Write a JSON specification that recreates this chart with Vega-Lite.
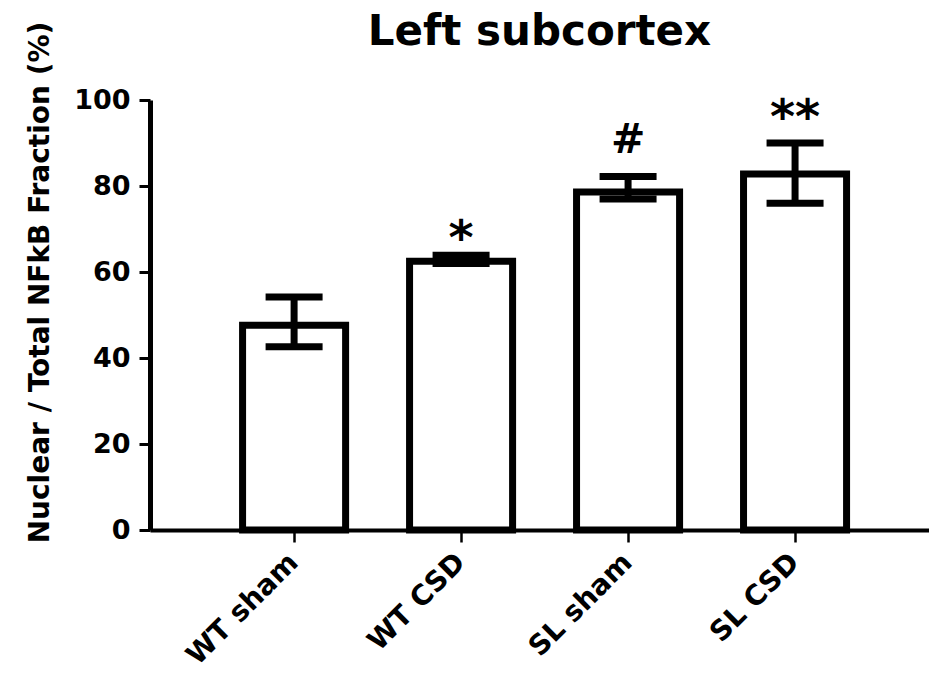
{
  "$schema": "https://vega.github.io/schema/vega-lite/v6.json",
  "width": 779,
  "height": 430,
  "autosize": {"type": "none"},
  "padding": {"left": 150, "top": 100, "right": 0, "bottom": 147},
  "background": "white",
  "title": {
    "text": "Left subcortex",
    "font": "DejaVu Sans",
    "fontSize": 42,
    "fontWeight": "bold",
    "color": "black",
    "anchor": "middle",
    "frame": "group",
    "baseline": "alphabetic",
    "offset": 0,
    "dy": 66
  },
  "config": {
    "view": {"stroke": null},
    "axis": {
      "labelFont": "DejaVu Sans",
      "titleFont": "DejaVu Sans",
      "labelColor": "black",
      "titleColor": "black",
      "domainColor": "black",
      "tickColor": "black",
      "grid": false,
      "labelFontWeight": "bold",
      "titleFontWeight": "bold"
    },
    "axisX": {
      "labelAngle": -45,
      "labelAlign": "right",
      "labelBaseline": "middle",
      "labelFontSize": 28,
      "labelPadding": 16,
      "tickSize": 12,
      "tickWidth": 2.5,
      "domainWidth": 4,
      "labelLimit": 0
    },
    "axisY": {
      "labelFontSize": 27,
      "labelPadding": 9,
      "tickSize": 11,
      "tickWidth": 3,
      "domainWidth": 5,
      "titleFontSize": 28,
      "titleX": -102,
      "titleY": 182,
      "titleBaseline": "alphabetic"
    }
  },
  "data": {
    "values": [
      {"group": "WT sham", "mean": 47.6, "lower": 42.6, "upper": 54.2, "sig": ""},
      {"group": "WT CSD", "mean": 62.5, "lower": 62.0, "upper": 63.9, "sig": "*"},
      {"group": "SL sham", "mean": 78.6, "lower": 77.0, "upper": 82.2, "sig": "#"},
      {"group": "SL CSD", "mean": 82.8, "lower": 76.0, "upper": 90.0, "sig": "**"}
    ]
  },
  "encoding": {
    "x": {
      "field": "group",
      "type": "nominal",
      "sort": null,
      "title": null,
      "scale": {"paddingInner": 0.383, "paddingOuter": 0.524, "align": 0.529}
    }
  },
  "layer": [
    {
      "mark": {"type": "bar", "fill": "white", "stroke": "black", "strokeWidth": 7, "strokeJoin": "miter"},
      "encoding": {
        "y": {
          "field": "mean",
          "type": "quantitative",
          "title": "Nuclear / Total NFkB Fraction (%)",
          "scale": {"domain": [0, 100], "nice": false},
          "axis": {"values": [0, 20, 40, 60, 80, 100]}
        }
      }
    },
    {
      "mark": {"type": "rule", "color": "black", "strokeWidth": 7},
      "encoding": {
        "y": {
          "field": "lower",
          "type": "quantitative",
          "title": "Nuclear / Total NFkB Fraction (%)",
          "scale": {"domain": [0, 100], "nice": false},
          "axis": {"values": [0, 20, 40, 60, 80, 100]}
        },
        "y2": {"field": "upper"}
      }
    },
    {
      "mark": {"type": "tick", "color": "black", "size": 57, "thickness": 7, "opacity": 1},
      "encoding": {
        "y": {
          "field": "lower",
          "type": "quantitative",
          "title": "Nuclear / Total NFkB Fraction (%)",
          "scale": {"domain": [0, 100], "nice": false},
          "axis": {"values": [0, 20, 40, 60, 80, 100]}
        }
      }
    },
    {
      "mark": {"type": "tick", "color": "black", "size": 57, "thickness": 7, "opacity": 1},
      "encoding": {
        "y": {
          "field": "upper",
          "type": "quantitative",
          "title": "Nuclear / Total NFkB Fraction (%)",
          "scale": {"domain": [0, 100], "nice": false},
          "axis": {"values": [0, 20, 40, 60, 80, 100]}
        }
      }
    },
    {
      "transform": [{"filter": "datum.sig === '*'"}],
      "mark": {"type": "text", "font": "DejaVu Sans", "fontWeight": "bold", "fontSize": 48, "color": "black", "baseline": "alphabetic", "dy": -1},
      "encoding": {
        "y": {
          "field": "upper",
          "type": "quantitative",
          "title": "Nuclear / Total NFkB Fraction (%)",
          "scale": {"domain": [0, 100], "nice": false},
          "axis": {"values": [0, 20, 40, 60, 80, 100]}
        },
        "text": {"field": "sig"}
      }
    },
    {
      "transform": [{"filter": "datum.sig === '**'"}],
      "mark": {"type": "text", "font": "DejaVu Sans", "fontWeight": "bold", "fontSize": 48, "color": "black", "baseline": "alphabetic", "dy": -10},
      "encoding": {
        "y": {
          "field": "upper",
          "type": "quantitative",
          "title": "Nuclear / Total NFkB Fraction (%)",
          "scale": {"domain": [0, 100], "nice": false},
          "axis": {"values": [0, 20, 40, 60, 80, 100]}
        },
        "text": {"field": "sig"}
      }
    },
    {
      "transform": [{"filter": "datum.sig === '#'"}],
      "mark": {"type": "text", "font": "DejaVu Sans", "fontWeight": "bold", "fontSize": 41, "color": "black", "baseline": "alphabetic", "dy": -24},
      "encoding": {
        "y": {
          "field": "upper",
          "type": "quantitative",
          "title": "Nuclear / Total NFkB Fraction (%)",
          "scale": {"domain": [0, 100], "nice": false},
          "axis": {"values": [0, 20, 40, 60, 80, 100]}
        },
        "text": {"field": "sig"}
      }
    }
  ]
}
